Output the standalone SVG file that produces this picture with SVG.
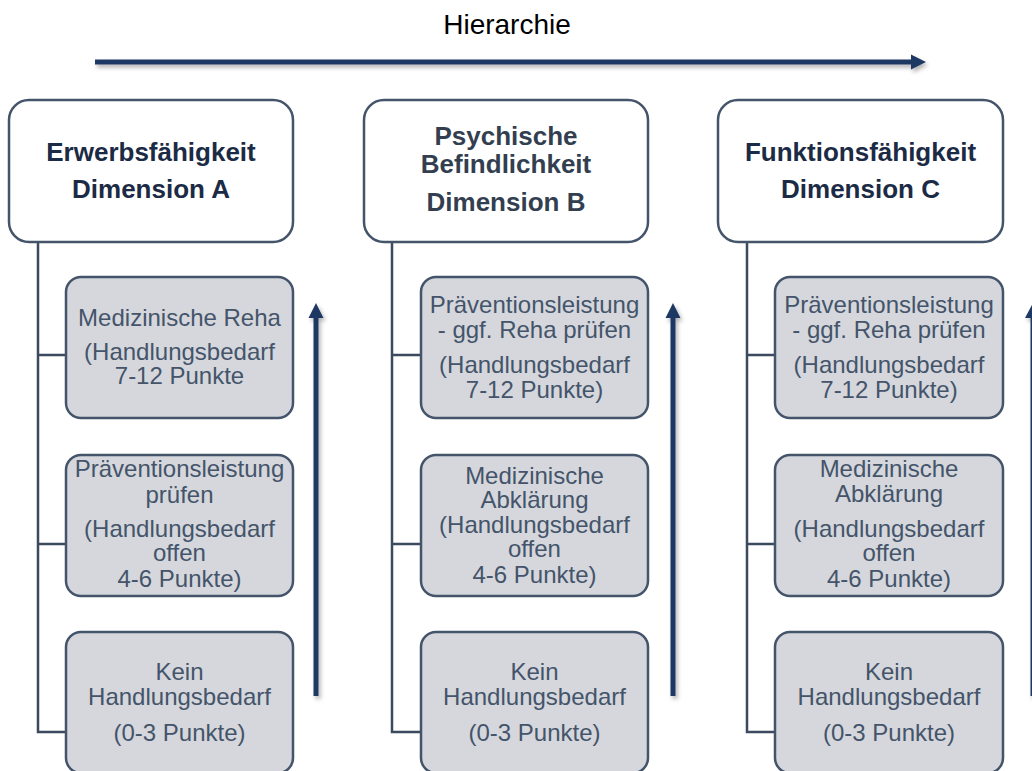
<svg xmlns="http://www.w3.org/2000/svg" width="1032" height="771" viewBox="0 0 1032 771">
<style>
.top{fill:#ffffff;stroke:#44546a;stroke-width:2.5}
.child{fill:#d5d7dc;stroke:#44546a;stroke-width:2.5}
.conn{fill:none;stroke:#3b4a5e;stroke-width:2.5}
.arr{fill:#1f3864;filter:url(#sh)}
.tt{font-family:"Liberation Sans",Arial,sans-serif;font-weight:bold;font-size:26px;text-anchor:middle;fill:#1c2b45}
.ttb{fill:#333f50}
.ct{font-family:"Liberation Sans",Arial,sans-serif;font-size:24px;text-anchor:middle;fill:#44546a}
.hd{font-family:"Liberation Sans",Arial,sans-serif;font-size:28px;text-anchor:middle;fill:#000}
</style>
<defs>
<filter id="sh" x="-50%" y="-50%" width="200%" height="200%">
<feDropShadow dx="2" dy="3" stdDeviation="2" flood-color="#000" flood-opacity="0.3"/>
</filter>
</defs>
<rect width="1032" height="771" fill="#fff"/>

<g id="hierarchy">
<text class="hd" x="507" y="34">Hierarchie</text>
<path class="arr" d="M95,59.5 H911 V54.5 L926,62 L911,69.5 V64.5 H95 Z"/>
</g>

<g id="connectors">
<path class="conn" d="M38,242 V732 H66 M38,355 H66 M38,544 H66"/>
<path class="conn" d="M392,242 V732 H421 M392,355 H421 M392,544 H421"/>
<path class="conn" d="M747,242 V732 H775 M747,355 H775 M747,544 H775"/>
<path class="arr" d="M313.5,696 V318 H308.5 L316,303 L323.5,318 H318.5 V696 Z"/>
<path class="arr" d="M670.5,696 V318 H665.5 L673,303 L680.5,318 H675.5 V696 Z"/>
<path class="arr" d="M1030.5,696 V318 H1025 L1033,303 L1041,318 H1035.5 V696 Z"/>
</g>

<g id="dimA">
<rect class="top" x="9" y="100" width="284" height="142" rx="20"/>
<text class="tt" x="151" y="161">Erwerbsfähigkeit</text>
<text class="tt" x="151" y="198">Dimension A</text>
</g>
<g id="dimB">
<rect class="top" x="364" y="100" width="284" height="142" rx="20"/>
<text class="tt ttb" x="506" y="145">Psychische</text>
<text class="tt ttb" x="506" y="173">Befindlichkeit</text>
<text class="tt ttb" x="506" y="211">Dimension B</text>
</g>
<g id="dimC">
<rect class="top" x="718" y="100" width="285" height="142" rx="20"/>
<text class="tt" x="860.5" y="161">Funktionsfähigkeit</text>
<text class="tt" x="860.5" y="198">Dimension C</text>
</g>

<g id="a1">
<rect class="child" x="66" y="277" width="227" height="141" rx="15"/>
<text class="ct" x="179.5" y="326">Medizinische Reha</text>
<text class="ct" x="179.5" y="360">(Handlungsbedarf</text>
<text class="ct" x="179.5" y="384">7-12 Punkte</text>
</g>
<g id="a2">
<rect class="child" x="66" y="455" width="227" height="141" rx="15"/>
<text class="ct" x="179.5" y="477">Präventionsleistung</text>
<text class="ct" x="179.5" y="503">prüfen</text>
<text class="ct" x="179.5" y="537">(Handlungsbedarf</text>
<text class="ct" x="179.5" y="561">offen</text>
<text class="ct" x="179.5" y="587">4-6 Punkte)</text>
</g>
<g id="a3">
<rect class="child" x="66" y="632" width="227" height="141" rx="15"/>
<text class="ct" x="179.5" y="680">Kein</text>
<text class="ct" x="179.5" y="705">Handlungsbedarf</text>
<text class="ct" x="179.5" y="741">(0-3 Punkte)</text>
</g>

<g id="b1">
<rect class="child" x="421" y="277" width="227" height="141" rx="15"/>
<text class="ct" x="534.5" y="313">Präventionsleistung</text>
<text class="ct" x="534.5" y="338">- ggf. Reha prüfen</text>
<text class="ct" x="534.5" y="373">(Handlungsbedarf</text>
<text class="ct" x="534.5" y="398">7-12 Punkte)</text>
</g>
<g id="b2">
<rect class="child" x="421" y="455" width="227" height="141" rx="15"/>
<text class="ct" x="534.5" y="484">Medizinische</text>
<text class="ct" x="534.5" y="508">Abklärung</text>
<text class="ct" x="534.5" y="533">(Handlungsbedarf</text>
<text class="ct" x="534.5" y="557">offen</text>
<text class="ct" x="534.5" y="583">4-6 Punkte)</text>
</g>
<g id="b3">
<rect class="child" x="421" y="632" width="227" height="141" rx="15"/>
<text class="ct" x="534.5" y="680">Kein</text>
<text class="ct" x="534.5" y="705">Handlungsbedarf</text>
<text class="ct" x="534.5" y="741">(0-3 Punkte)</text>
</g>

<g id="c1">
<rect class="child" x="775" y="277" width="228" height="141" rx="15"/>
<text class="ct" x="889" y="313">Präventionsleistung</text>
<text class="ct" x="889" y="338">- ggf. Reha prüfen</text>
<text class="ct" x="889" y="373">(Handlungsbedarf</text>
<text class="ct" x="889" y="398">7-12 Punkte)</text>
</g>
<g id="c2">
<rect class="child" x="775" y="455" width="228" height="141" rx="15"/>
<text class="ct" x="889" y="477">Medizinische</text>
<text class="ct" x="889" y="502">Abklärung</text>
<text class="ct" x="889" y="537">(Handlungsbedarf</text>
<text class="ct" x="889" y="561">offen</text>
<text class="ct" x="889" y="587">4-6 Punkte)</text>
</g>
<g id="c3">
<rect class="child" x="775" y="632" width="228" height="141" rx="15"/>
<text class="ct" x="889" y="680">Kein</text>
<text class="ct" x="889" y="705">Handlungsbedarf</text>
<text class="ct" x="889" y="741">(0-3 Punkte)</text>
</g>
</svg>
